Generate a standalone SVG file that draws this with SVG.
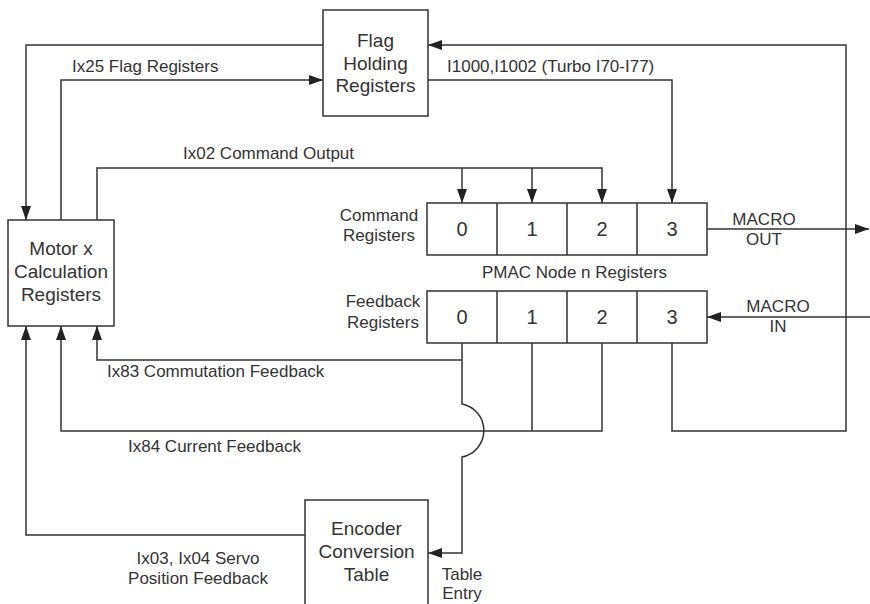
<svg xmlns="http://www.w3.org/2000/svg" width="870" height="604" viewBox="0 0 870 604">
<defs>
<marker id="arr" markerWidth="14" markerHeight="10" refX="14" refY="5" orient="auto" markerUnits="userSpaceOnUse">
<path d="M0,0 L14,5 L0,10 z" fill="#222"/>
</marker>
<style>
.box{fill:#fff;stroke:#333;stroke-width:1.5}
.ln{fill:none;stroke:#333;stroke-width:1.5}
.ar{marker-end:url(#arr)}
text{font-family:"Liberation Sans",Arial,sans-serif;fill:#333}
.bt{font-size:19px;text-anchor:middle}
.lb{font-size:17px}
.c{text-anchor:middle}
.dg{font-size:20px;text-anchor:middle}
</style>
</defs>
<rect width="870" height="604" fill="#fff"/>
<g id="connectors">
<path class="ln ar" d="M323,45 H26 V220"/>
<path class="ln ar" d="M61,220 V80 H323"/>
<path class="ln ar" d="M97,220 V168 H602 V203"/>
<path class="ln ar" d="M462,168 V203"/>
<path class="ln ar" d="M532,168 V203"/>
<path class="ln ar" d="M428,80 H672 V203"/>
<path class="ln ar" d="M672,343 V431 H846 V45 H428"/>
<path class="ln ar" d="M707,229 H869"/>
<path class="ln ar" d="M870,317 H707"/>
<path class="ln ar" d="M462,343 V404 A27,27 0 0 1 462,457 V553 H428"/>
<path class="ln ar" d="M462,360 H97 V326"/>
<path class="ln" d="M532,343 V431"/>
<path class="ln ar" d="M602,343 V431 H61 V326"/>
<path class="ln ar" d="M305,535 H26 V326"/>
</g>
<g id="flag">
<rect class="box" x="323" y="10" width="105" height="106"/>
<text class="bt" x="375.5" y="47">Flag</text>
<text class="bt" x="375.5" y="69.5">Holding</text>
<text class="bt" x="375.5" y="92">Registers</text>
</g>
<g id="motor">
<rect class="box" x="8" y="220" width="106" height="106"/>
<text class="bt" x="61" y="255">Motor x</text>
<text class="bt" x="61" y="278">Calculation</text>
<text class="bt" x="61" y="301">Registers</text>
</g>
<g id="command">
<rect class="box" x="427" y="203" width="280" height="52"/>
<path class="ln" d="M497,203 V255 M567,203 V255 M637,203 V255"/>
<text class="dg" x="462" y="236">0</text>
<text class="dg" x="532" y="236">1</text>
<text class="dg" x="602" y="236">2</text>
<text class="dg" x="672" y="236">3</text>
<text class="lb c" x="379" y="221">Command</text>
<text class="lb c" x="379" y="241">Registers</text>
</g>
<g id="feedback">
<rect class="box" x="427" y="291" width="280" height="52"/>
<path class="ln" d="M497,291 V343 M567,291 V343 M637,291 V343"/>
<text class="dg" x="462" y="324">0</text>
<text class="dg" x="532" y="324">1</text>
<text class="dg" x="602" y="324">2</text>
<text class="dg" x="672" y="324">3</text>
<text class="lb c" x="383" y="307">Feedback</text>
<text class="lb c" x="383" y="328">Registers</text>
</g>
<g id="encoder">
<rect class="box" x="305" y="500" width="123" height="110"/>
<text class="bt" x="366.5" y="535">Encoder</text>
<text class="bt" x="366.5" y="558">Conversion</text>
<text class="bt" x="366.5" y="581">Table</text>
</g>
<g id="labels">
<text class="lb" x="72" y="72">Ix25 Flag Registers</text>
<text class="lb" x="447" y="72">I1000,I1002 (Turbo I70-I77)</text>
<text class="lb" x="183" y="159">Ix02 Command Output</text>
<text class="lb c" x="574.5" y="278">PMAC Node n Registers</text>
<text class="lb c" x="764" y="225">MACRO</text>
<text class="lb c" x="764" y="245">OUT</text>
<text class="lb c" x="778" y="312">MACRO</text>
<text class="lb c" x="778" y="332">IN</text>
<text class="lb" x="107" y="377">Ix83 Commutation Feedback</text>
<text class="lb" x="128" y="452">Ix84 Current Feedback</text>
<text class="lb c" x="198" y="564">Ix03, Ix04 Servo</text>
<text class="lb c" x="198" y="584">Position Feedback</text>
<text class="lb c" x="462" y="580">Table</text>
<text class="lb c" x="462" y="599">Entry</text>
</g>
</svg>
